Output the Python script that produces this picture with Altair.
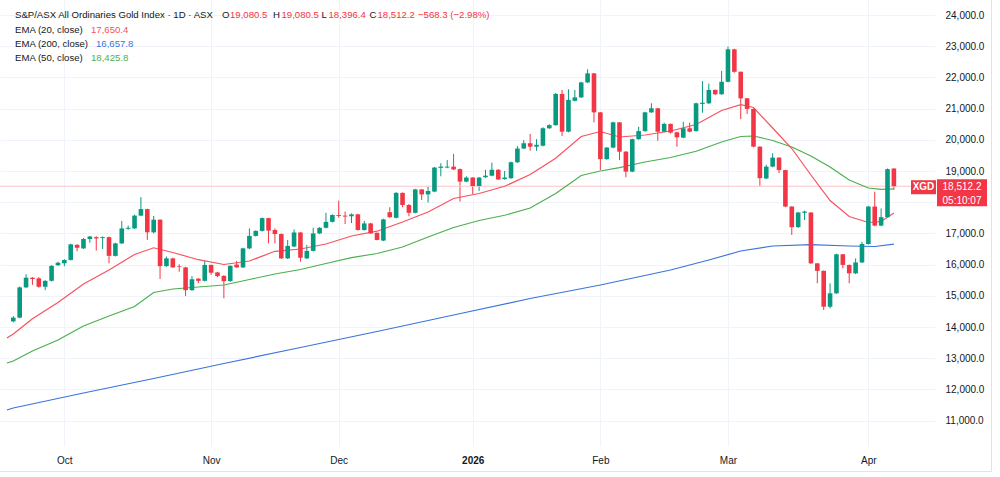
import altair as alt
import pandas as pd
import numpy as np

# ---------------- data ----------------
idx = list(range(1, 140))

opens = [14180,14300,15270,15580,15560,15290,15480,15980,16040,16150,
16630,16520,16820,16880,16850,16880,16280,16680,17150,17160,
17570,17780,17035,17440,15950,16200,15950,15910,15180,15550,
15480,15990,15750,15640,15470,16000,15910,16520,16920,17080,
17490,17110,16980,16200,16580,17030,16200,16440,17000,17180,
17370,17590,17570,17550,17610,17110,17320,17020,16770,17680,
17500,18300,17910,17660,18410,18250,18340,19100,19110,19140,
19060,18660,18790,18520,18800,18850,19040,18740,18770,19280,
19720,19890,19780,19810,20370,20470,21470,20260,21250,21360,
21840,22130,20880,19380,19750,20560,19620,18980,20020,20280,
20880,21010,20260,20510,20240,20070,20370,20280,21150,21170,
21600,21460,21860,22900,22180,21330,20990,19780,18760,19140,
19430,19030,17860,17200,17660,17670,16040,15800,14650,15080,
16330,15990,15720,16070,16660,17860,17250,17520,19080.5]

highs = [14350,15300,15690,15600,15600,15500,15980,16090,16170,16670,
16660,16850,16920,16910,16900,16900,16700,17400,17250,17600,
18160,17790,17560,17450,16260,16220,16010,15930,15630,15560,
16120,16000,15770,15660,15980,16120,16540,17160,17100,17510,
17500,17160,17000,16790,17130,17040,16630,17180,17200,17660,
17610,18050,17700,17640,17630,17400,17340,17030,17470,17840,
18320,18310,17940,18430,18420,18500,19130,19250,19350,19550,
19080,18830,18800,18810,19040,19270,19060,19000,19300,19800,
19990,20190,20020,20400,20500,21500,21600,21620,21600,21860,
22260,22140,20890,19770,20580,20570,19640,20040,20420,20900,
21170,21020,20550,20520,20260,20580,20550,21190,21880,21800,
21610,22210,22985,22920,22190,21340,21000,19790,19200,19570,
19440,19040,17870,17690,17730,17680,16050,15810,15400,16350,
16340,16000,16200,16730,17880,18340,17800,19080,19080.5]

lows = [14150,14280,15250,15350,15260,15180,15460,15960,15950,16130,
16430,16500,16700,16450,16500,16040,16260,16660,17120,17140,
17550,16790,17000,15540,15930,15900,15770,14990,15160,15400,
15460,15670,15600,14920,15450,15900,15890,16500,16900,17060,
16680,16680,16180,16180,16560,16090,16180,16420,16980,17160,
17350,17500,17300,17330,17090,17090,16990,16780,16750,17500,
17480,17840,17550,17640,18070,17990,18320,18830,19090,19030,
18020,18640,18260,18360,18780,18830,18710,18720,18750,19260,
19700,19650,19650,19790,20350,20450,20120,20240,21230,21340,
21820,20560,19030,19360,19730,19350,18800,18960,20000,20260,
20860,19970,20240,20200,19780,20050,20240,20260,20870,21150,
21430,21440,21840,22150,20660,20830,19760,18520,18740,19120,
18930,17840,16950,17180,17430,16020,15400,14545,14600,15060,
15880,15400,15700,16050,16640,17230,17230,17500,18396.4]

closes = [14300,15270,15580,15540,15290,15480,15960,16060,16150,16650,
16540,16820,16900,16840,16880,16280,16680,17160,17180,17570,
17780,17035,17440,15950,16200,15910,15930,15180,15530,15480,
15990,15740,15630,15470,15960,15910,16520,16920,17080,17490,
17090,16980,16200,16600,17030,16220,16440,17000,17180,17370,
17590,17560,17540,17610,17110,17320,17000,16790,17450,17520,
18300,17910,17660,18410,18250,18360,19110,19140,19140,19050,
18660,18790,18520,18790,18850,19040,18730,18790,19280,19720,
19890,19780,19840,20370,20470,21470,20260,21280,21360,21840,
22130,20880,19380,19750,20560,19620,18980,20020,20280,20880,
21010,20260,20510,20230,20080,20370,20260,21170,21190,21600,
21460,21860,22900,22180,21330,20990,19780,18770,19140,19430,
19030,17860,17200,17670,17700,16040,15800,14650,15080,16330,
15990,15720,16070,16660,17860,17250,17520,19060,18512.2]

ema20_idx = [0,1,4,8,12,16,20,23,26,30,34,38,42,46,50,54,58,62,66,70,74,78,82,86,90,93,96,100,104,108,112,115,117,120,123,126,129,132,135,137,139]
ema20 = [13648,13776,14266,14786,15378,15827,16324,16539,16388,16157,16004,16116,16427,16500,16661,16917,17071,17366,17686,18119,18279,18510,18888,19407,20106,20266,20090,20154,20282,20490,20939,21125,21035,20378,19721,18872,18055,17542,17350,17382,17650.4]

ema50_idx = ema20_idx
ema50 = [12847,12911,13231,13584,14033,14353,14657,15106,15218,15282,15346,15523,15699,15843,16035,16221,16356,16564,16885,17189,17414,17581,17814,18279,18856,19000,19106,19289,19433,19632,19930,20106,20122,19978,19769,19481,19128,18712,18455,18414,18425.8]

ema200_idx = [0,1,12,23,34,46,58,70,82,93,104,110,115,120,126,132,136,139]
ema200 = [11340,11404,11885,12350,12831,13343,13856,14385,14914,15347,15827,16148,16436,16597,16638,16597,16581,16657.8]

month_ticks = [9, 32, 52, 73, 93, 113, 135]
month_labels = ["Oct", "Nov", "Dec", "2026", "Feb", "Mar", "Apr"]
price_ticks = list(range(11000, 24001, 1000))
hidden_price_tick = 18000   # covered by the last-price label in the reference
last_price = 18512.2

# ---------------- style ----------------
FONT = "Liberation Sans"
GREEN = "#089981"
RED = "#f23645"
TXT = "#131722"
GRID = "#f0f3fa"
W, H = 935, 446
X_DOM = [-0.3, 144.66]
Y_DOM = [10186, 24481]

df = pd.DataFrame({"idx": idx, "open": opens, "high": highs, "low": lows, "close": closes})
df["dir"] = np.where(df["close"] >= df["open"], "up", "down")

xs = alt.Scale(domain=X_DOM, nice=False, zero=False)
ys = alt.Scale(domain=Y_DOM, nice=False, zero=False)
col = alt.Color("dir:N", scale=alt.Scale(domain=["up", "down"], range=[GREEN, RED]), legend=None)

label_expr = "[" + ",".join("'%s'" % m for m in month_labels) + "][indexof([" + ",".join(str(t) for t in month_ticks) + "], datum.value)]"
ylabel_expr = "datum.value == %d ? '' : format(datum.value, ',.1f')" % hidden_price_tick

x_axis = alt.Axis(values=month_ticks, labelExpr=label_expr, grid=True, gridColor=GRID,
                  domain=False, ticks=False, labelPadding=9, labelFontSize=10, labelFont=FONT,
                  labelColor=TXT, title=None, labelFlush=False,
                  labelFontWeight={"condition": {"test": "datum.value == 73", "value": "bold"}, "value": "normal"})
y_axis = alt.Axis(orient="right", values=price_ticks, labelExpr=ylabel_expr, grid=True, gridColor=GRID,
                  domain=False, ticks=False, labelPadding=10, labelFontSize=10, labelFont=FONT,
                  labelColor=TXT, title=None, labelAlign="left")


def X(field):
    return alt.X(field, scale=xs, axis=x_axis)


def Y(field):
    return alt.Y(field, scale=ys, axis=y_axis)


wicks = alt.Chart(df).mark_rule(strokeWidth=1, clip=True).encode(
    x=X("idx:Q"), y=Y("low:Q"), y2="high:Q", color=col)
bodies = alt.Chart(df).mark_bar(size=4.6, clip=True).encode(
    x=X("idx:Q"), y=Y("open:Q"), y2="close:Q", color=col)


def ema_layer(ix, vals, color):
    d = pd.DataFrame({"idx": ix, "v": vals})
    return alt.Chart(d).mark_line(strokeWidth=1.2, color=color, clip=True).encode(
        x=X("idx:Q"), y=Y("v:Q"))


l200 = ema_layer(ema200_idx, ema200, "#3b74dc")
l50 = ema_layer(ema50_idx, ema50, "#4caf50")
l20 = ema_layer(ema20_idx, ema20, "#f7525f")

lbl = pd.DataFrame({"p": [last_price]})
price_line = alt.Chart(lbl).mark_rule(color="#f9c4c8", strokeWidth=1).encode(y=Y("p:Q"))

box_sym = alt.Chart(lbl).mark_rect(color=RED, yOffset=-6, y2Offset=8).encode(
    x=alt.value(911), x2=alt.value(936), y=Y("p:Q"), y2="p:Q")
box_price = alt.Chart(lbl).mark_rect(color=RED, yOffset=-7, y2Offset=20).encode(
    x=alt.value(937), x2=alt.value(987), y=Y("p:Q"), y2="p:Q")
t_sym = alt.Chart(lbl).mark_text(color="white", font=FONT, fontSize=10, fontWeight="bold", dy=1).encode(
    x=alt.value(923.5), y=Y("p:Q"), text=alt.value("XGD"))
t_price = alt.Chart(lbl).mark_text(color="white", font=FONT, fontSize=10, dy=0.5).encode(
    x=alt.value(962), y=Y("p:Q"), text=alt.value("18,512.2"))
t_time = alt.Chart(lbl).mark_text(color="white", font=FONT, fontSize=10, dy=14.5).encode(
    x=alt.value(962), y=Y("p:Q"), text=alt.value("05:10:07"))

# header legend
HS = 9.6
hdr = pd.DataFrame([
    {"t": "S&P/ASX All Ordinaries Gold Index · 1D · ASX", "px": 15, "py": 15, "c": TXT},
    {"t": "O", "px": 222, "py": 15, "c": TXT},
    {"t": "19,080.5", "px": 230, "py": 15, "c": RED},
    {"t": "H", "px": 273, "py": 15, "c": TXT},
    {"t": "19,080.5", "px": 281.5, "py": 15, "c": RED},
    {"t": "L", "px": 321.5, "py": 15, "c": TXT},
    {"t": "18,396.4", "px": 328.5, "py": 15, "c": RED},
    {"t": "C", "px": 369.5, "py": 15, "c": TXT},
    {"t": "18,512.2", "px": 377.5, "py": 15, "c": RED},
    {"t": "\u2212568.3 (\u22122.98%)", "px": 418, "py": 15, "c": RED},
    {"t": "EMA (20, close)", "px": 15, "py": 29.5, "c": TXT},
    {"t": "17,650.4", "px": 91, "py": 29.5, "c": "#f7525f"},
    {"t": "EMA (200, close)", "px": 15, "py": 43.5, "c": TXT},
    {"t": "16,657.8", "px": 96, "py": 43.5, "c": "#3b74dc"},
    {"t": "EMA (50, close)", "px": 15, "py": 58, "c": TXT},
    {"t": "18,425.8", "px": 91, "py": 58, "c": "#4caf50"},
])
header = alt.Chart(hdr).mark_text(align="left", baseline="middle", font=FONT, fontSize=HS).encode(
    x=alt.X("px:Q", scale=None, axis=None),
    y=alt.Y("py:Q", scale=None, axis=None),
    text="t:N",
    color=alt.Color("c:N", scale=None, legend=None),
)

border_r = alt.Chart(pd.DataFrame({"a": [0]})).mark_rule(color="#e0e3eb").encode(
    x=alt.value(991.5), y=alt.value(0), y2=alt.value(471.5))
border_b = alt.Chart(pd.DataFrame({"a": [0]})).mark_rule(color="#e0e3eb").encode(
    x=alt.value(0), x2=alt.value(991.5), y=alt.value(471.5))

chart = alt.layer(
    wicks, price_line, l200, l50, l20, bodies,
    box_sym, box_price, t_sym, t_price, t_time, header, border_r, border_b,
).resolve_scale(color="independent").properties(
    width=W, height=H,
    autosize=alt.AutoSizeParams(type="none"),
    padding={"left": 0, "top": 0, "right": 65, "bottom": 31},
    background="white",
).configure_view(stroke=None)

chart.save("out.html", embed_options={"renderer": "svg", "actions": False})
